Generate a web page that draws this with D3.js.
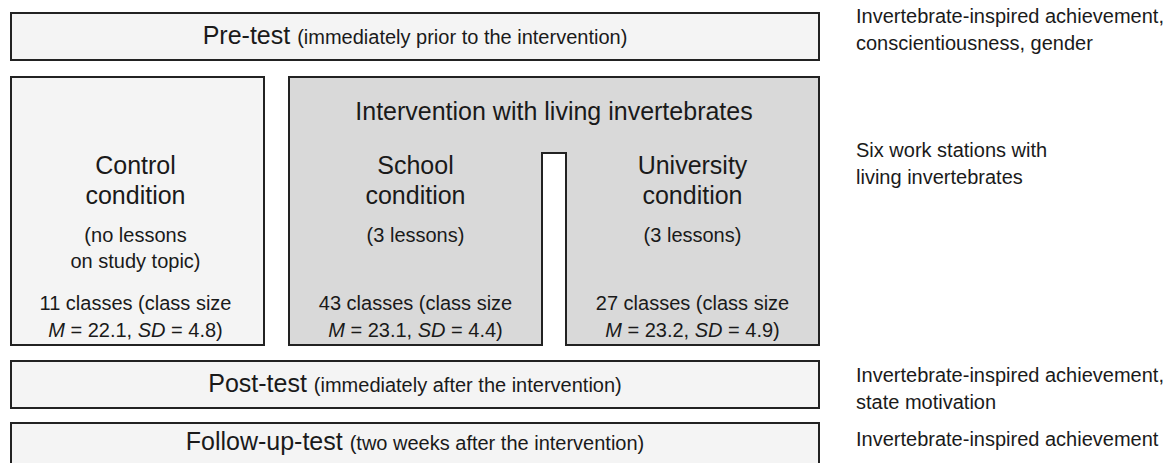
<!DOCTYPE html>
<html>
<head>
<meta charset="utf-8">
<script src="https://cdn.jsdelivr.net/npm/d3@7"></script>
<style>
  html, body { margin: 0; padding: 0; background: #fff; }
  svg { display: block; }
  text { font-family: "Liberation Sans", Arial, sans-serif; fill: #1a1a1a; }
</style>
</head>
<body>
<div id="chart"></div>
<script>
// ---- content ----
const phases = ["Pre-test", "Post-test", "Follow-up-test"];
const phaseNotes = ["(immediately prior to the intervention)", "(immediately after the intervention)", "(two weeks after the intervention)"];
const interventionTitle = "Intervention with living invertebrates";
const conditions = ["Control", "School", "University"];
const conditionNotes = [["(no lessons", "on study topic)"], ["(3 lessons)"], ["(3 lessons)"]];
const classCounts = [11, 43, 27];
const classSizeM = [22.1, 23.1, 23.2];
const classSizeSD = [4.8, 4.4, 4.9];
const measures = [
  ["Invertebrate-inspired achievement,", "conscientiousness, gender"],
  ["Six work stations with", "living invertebrates"],
  ["Invertebrate-inspired achievement,", "state motivation"],
  ["Invertebrate-inspired achievement"]
];

(function () {
// ---- layout ----
const W = 1175, H = 463;
const svg = d3.select("#chart").append("svg").attr("width", W).attr("height", H);
svg.append("rect").attr("width", W).attr("height", H).attr("fill", "#fff");

const x = d3.scaleLinear().domain([0, 1]).range([11, 819]);
const stroke = "#222", light = "#f4f4f4", dark = "#d9d9d9";
const BIG = 25, SMALL = 20;

// phase boxes
const phaseY = [[13, 60], [361, 408], [423, 476]];
const phaseBase = [44, 392, 450];
phases.forEach((p, i) => {
  const [y0, y1] = phaseY[i];
  svg.append("rect").attr("x", x(0)).attr("y", y0).attr("width", x(1) - x(0)).attr("height", y1 - y0)
    .attr("fill", light).attr("stroke", stroke).attr("stroke-width", 2);
  const t = svg.append("text").attr("x", (x(0) + x(1)) / 2).attr("y", phaseBase[i])
    .attr("text-anchor", "middle");
  t.append("tspan").attr("font-size", BIG).text(p + " ");
  t.append("tspan").attr("font-size", SMALL).text(phaseNotes[i]);
});

// condition layout
const cx = [[11, 264], [289, 542], [566, 819]];
const yTop = 77, yBottom = 345, gapTop = 153;
// control box
svg.append("rect").attr("x", cx[0][0]).attr("y", yTop).attr("width", cx[0][1] - cx[0][0]).attr("height", yBottom - yTop)
  .attr("fill", light).attr("stroke", stroke).attr("stroke-width", 2);
// intervention shape
const path = d3.path();
path.moveTo(cx[1][0], yTop); path.lineTo(cx[2][1], yTop); path.lineTo(cx[2][1], yBottom);
path.lineTo(cx[2][0], yBottom); path.lineTo(cx[2][0], gapTop); path.lineTo(cx[1][1], gapTop);
path.lineTo(cx[1][1], yBottom); path.lineTo(cx[1][0], yBottom); path.closePath();
svg.append("path").attr("d", path.toString()).attr("fill", dark).attr("stroke", stroke).attr("stroke-width", 2);

svg.append("text").attr("x", (cx[1][0] + cx[2][1]) / 2).attr("y", 120).attr("text-anchor", "middle")
  .attr("font-size", BIG).text(interventionTitle);

conditions.forEach((c, i) => {
  const mx = (cx[i][0] + cx[i][1]) / 2 - (i === 0 ? 2 : 0);
  const g = svg.append("g").attr("text-anchor", "middle");
  g.append("text").attr("x", mx).attr("y", 174).attr("font-size", BIG).text(c);
  g.append("text").attr("x", mx).attr("y", 204).attr("font-size", BIG).text("condition");
  conditionNotes[i].forEach((n, j) => {
    g.append("text").attr("x", mx).attr("y", 242 + j * 26).attr("font-size", SMALL).text(n);
  });
  g.append("text").attr("x", mx).attr("y", 310).attr("font-size", SMALL)
    .text(classCounts[i] + " classes (class size");
  const t = g.append("text").attr("x", mx).attr("y", 337).attr("font-size", SMALL);
  t.append("tspan").attr("font-style", "italic").text("M");
  t.append("tspan").text(" = " + classSizeM[i].toFixed(1) + ", ");
  t.append("tspan").attr("font-style", "italic").text("SD");
  t.append("tspan").text(" = " + classSizeSD[i].toFixed(1) + ")");
});

// measure notes on the right
const measureY = [23, 157, 382, 446];
measures.forEach((lines, i) => {
  lines.forEach((l, j) => {
    svg.append("text").attr("x", 856).attr("y", measureY[i] + j * 27).attr("font-size", SMALL).text(l);
  });
});
})();
</script>
</body>
</html>
